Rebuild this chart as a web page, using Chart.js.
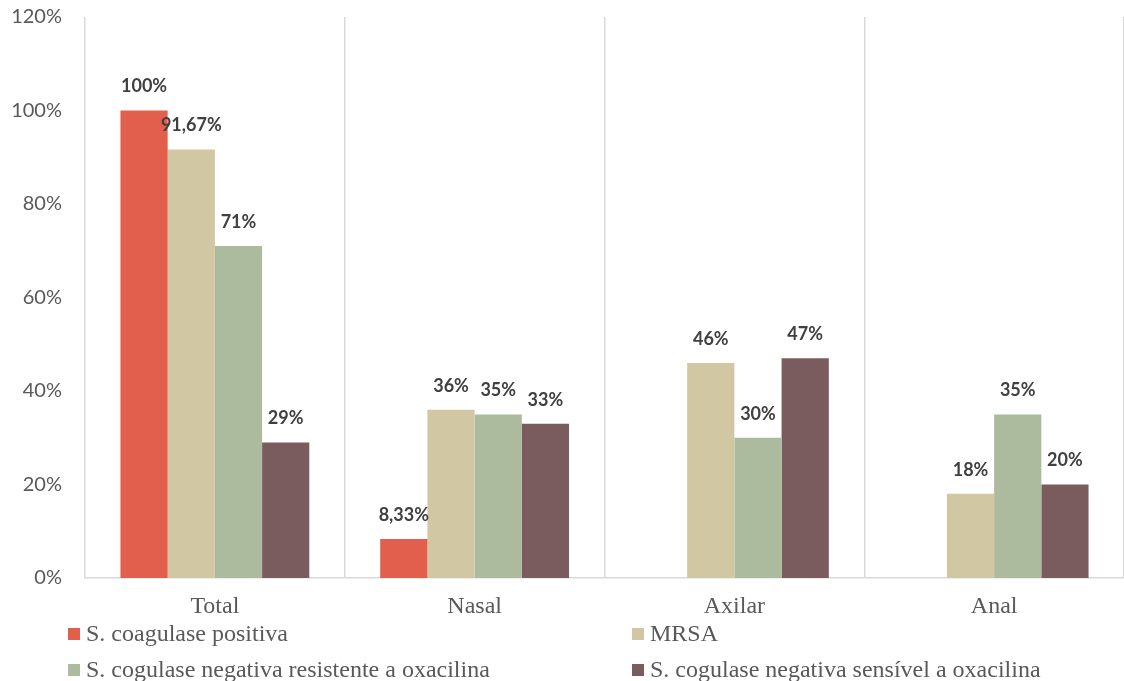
<!DOCTYPE html>
<html>
<head>
<meta charset="utf-8">
<script src="https://cdn.jsdelivr.net/npm/chart.js@4/dist/chart.umd.min.js"></script>
<style>
  html, body { margin: 0; padding: 0; background: #fff; }
  #wrap { position: relative; width: 1124px; height: 681px; }
  #legend { position: absolute; left: 0; top: 0; width: 1124px; height: 681px; pointer-events: none;
            font-family: "Liberation Serif", "Times New Roman", serif; font-size: 24px; color: #595959; }
  .item { position: absolute; white-space: nowrap; line-height: 24px; }
  .item span.box { display: inline-block; width: 12px; height: 12px; margin-right: 6px; vertical-align: 1px; }
</style>
</head>
<body>
<div id="wrap">
  <canvas id="chart" width="1124" height="681"></canvas>
  <div id="legend"></div>
</div>
<script>
const categories = ["Total", "Nasal", "Axilar", "Anal"];
const seriesNames = [
  "S. coagulase positiva",
  "MRSA",
  "S. cogulase negativa resistente a oxacilina",
  "S. cogulase negativa sensível a oxacilina"
];
const coagulasePositiva = [100, 8.33, null, null];
const mrsa = [91.67, 36, 46, 18];
const negativaResistente = [71, 35, 30, 35];
const negativaSensivel = [29, 33, 47, 20];
const yTicks = [0, 20, 40, 60, 80, 100, 120];

const colors = ["#E35F4D", "#D1C7A3", "#ACBA9D", "#7A5C5E"];
const seriesValues = [coagulasePositiva, mrsa, negativaResistente, negativaSensivel];

function pct(v) {
  return String(v).replace(".", ",") + "%";
}

// value labels above each bar
const barLabels = {
  id: "barLabels",
  afterDatasetsDraw(chart) {
    const ctx = chart.ctx;
    ctx.save();
    ctx.font = "bold 18px Lato, 'Open Sans', sans-serif";
    ctx.fillStyle = "#404040";
    ctx.textAlign = "center";
    ctx.textBaseline = "middle";
    chart.data.datasets.forEach((ds, i) => {
      const meta = chart.getDatasetMeta(i);
      meta.data.forEach((bar, j) => {
        const v = ds.data[j];
        if (v === null || v === undefined) return;
        ctx.fillText(pct(v), bar.x, bar.y - 24);
      });
    });
    ctx.restore();
  }
};

const ctx = document.getElementById("chart").getContext("2d");
new Chart(ctx, {
  type: "bar",
  data: {
    labels: categories,
    datasets: seriesNames.map((name, i) => ({
      label: name,
      data: seriesValues[i],
      backgroundColor: colors[i],
      barPercentage: 1,
      categoryPercentage: 0.727
    }))
  },
  options: {
    responsive: false,
    animation: false,
    layout: { padding: { top: 0, right: 0, bottom: 53, left: 0 } },
    plugins: {
      legend: { display: false },
      tooltip: { enabled: false }
    },
    scales: {
      x: {
        grid: { display: true, offset: true, color: "#D9D9D9", lineWidth: 1.5, drawTicks: false },
        border: { display: true, color: "#D9D9D9", width: 1.5 },
        ticks: {
          padding: 14,
          color: "#595959",
          font: { family: "'Liberation Serif', 'Times New Roman', serif", size: 24 }
        },
        afterFit(scale) { scale.height = 50; }
      },
      y: {
        min: 0,
        max: 120,
        afterBuildTicks(scale) { scale.ticks = yTicks.map(v => ({ value: v })); },
        grid: { display: false, drawTicks: false },
        border: { display: false },
        ticks: {
          padding: 23,
          color: "#595959",
          font: { family: "Lato, 'Open Sans', sans-serif", size: 20, lineHeight: 1.2 },
          callback: v => v + "%"
        },
        afterFit(scale) {
          scale.width = 85;
          // keep the plot top at 17px; tick padding would otherwise push it down
          scale.paddingTop = 17;
        }
      }
    }
  },
  plugins: [barLabels]
});

// two-column legend under the axis
const legendPos = [
  { left: 68, top: 621 },
  { left: 632, top: 621 },
  { left: 68, top: 657 },
  { left: 632, top: 657 }
];
const legend = document.getElementById("legend");
seriesNames.forEach((name, i) => {
  const el = document.createElement("div");
  el.className = "item";
  el.style.left = legendPos[i].left + "px";
  el.style.top = legendPos[i].top + "px";
  el.innerHTML = '<span class="box" style="background:' + colors[i] + '"></span>' + name;
  legend.appendChild(el);
});
</script>
</body>
</html>
